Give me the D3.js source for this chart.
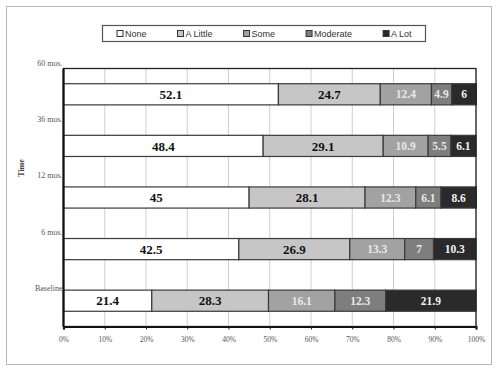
<!DOCTYPE html>
<html>
<head>
<meta charset="utf-8">
<script src="https://cdn.jsdelivr.net/npm/d3@7"></script>
<style>
  body { margin: 0; background: #fff; }
  svg { display: block; }
</style>
</head>
<body>
<div id="chart"></div>
<script>
// categories, top to bottom
var times = ["60 mos.", "36 mos.", "12 mos.", "6 mos.", "Baseline"];
var levels = ["None", "A Little", "Some", "Moderate", "A Lot"];

// percentages per level, same order as times
var none     = [52.1, 48.4, 45, 42.5, 21.4];
var aLittle  = [24.7, 29.1, 28.1, 26.9, 28.3];
var some     = [12.4, 10.9, 12.3, 13.3, 16.1];
var moderate = [4.9, 5.5, 6.1, 7, 12.3];
var aLot     = [6, 6.1, 8.6, 10.3, 21.9];

var xTicks = [0, 10, 20, 30, 40, 50, 60, 70, 80, 90, 100];

var fills = ["#ffffff", "#c6c6c6", "#a2a2a2", "#7e7e7e", "#2a2a2a"];
var labelColors = ["#111", "#111", "#e8e8e8", "#e8e8e8", "#f2f2f2"];

var width = 500, height = 369;
var margin = {left: 63.5, right: 24, top: 68.5, bottom: 42.5};

var svg = d3.select("#chart").append("svg")
    .attr("width", width)
    .attr("height", height);

// outer frame
svg.append("rect")
    .attr("x", 6.5).attr("y", 6.5)
    .attr("width", 485).attr("height", 358)
    .attr("fill", "#fff")
    .attr("stroke", "#b8b8b8");

var x = d3.scaleLinear()
    .domain([0, 100])
    .range([margin.left, width - margin.right]);

var y = d3.scaleBand()
    .domain(times)
    .range([margin.top, height - margin.bottom])
    .paddingInner(0.59)
    .paddingOuter(0.295);

// category label positions drift a bit in the source
var yLab = d3.scalePoint()
    .domain(times)
    .range([63, 288]);

// gridlines
svg.append("g")
    .selectAll("line")
    .data(xTicks)
    .enter().append("line")
    .attr("x1", d => x(d)).attr("x2", d => x(d))
    .attr("y1", margin.top).attr("y2", height - margin.bottom)
    .attr("stroke", "#cfcfcf")
    .attr("stroke-width", 1);

// stack
var rows = times.map(function (t, i) {
    return {time: t, "None": none[i], "A Little": aLittle[i], "Some": some[i], "Moderate": moderate[i], "A Lot": aLot[i]};
});
var series = d3.stack().keys(levels)(rows);

var groups = svg.append("g")
    .selectAll("g")
    .data(series)
    .enter().append("g");

groups.selectAll("rect")
    .data(function (s, si) { return s.map(d => ({d: d, si: si})); })
    .enter().append("rect")
    .attr("x", o => x(o.d[0]))
    .attr("width", o => x(o.d[1]) - x(o.d[0]))
    .attr("y", o => y(o.d.data.time))
    .attr("height", y.bandwidth())
    .attr("fill", o => fills[o.si])
    .attr("stroke", "#3a3a3a")
    .attr("stroke-width", 1.2);

groups.selectAll("text")
    .data(function (s, si) { return s.map(d => ({d: d, si: si, v: d.data[s.key]})); })
    .enter().append("text")
    .attr("x", o => (x(o.d[0]) + x(o.d[1])) / 2)
    .attr("y", o => y(o.d.data.time) + y.bandwidth() / 2)
    .attr("dy", "0.36em")
    .attr("text-anchor", "middle")
    .attr("font-family", "Liberation Serif, serif")
    .attr("font-weight", "bold")
    .attr("font-size", o => o.si < 2 ? 13 : 11.5)
    .attr("fill", o => labelColors[o.si])
    .text(o => o.v);

// plot border
svg.append("rect")
    .attr("x", margin.left).attr("y", margin.top)
    .attr("width", x(100) - margin.left)
    .attr("height", height - margin.bottom - margin.top)
    .attr("fill", "none")
    .attr("stroke", "#222")
    .attr("stroke-width", 1.3);

// bottom axis
var xAxis = svg.append("g")
    .attr("transform", "translate(0," + (height - margin.bottom) + ")")
    .call(d3.axisBottom(x).tickValues(xTicks).tickSize(3).tickFormat(d => d + "%"));
xAxis.select(".domain").attr("stroke", "#111").attr("stroke-width", 2.2);
xAxis.selectAll(".tick line").attr("stroke", "#222");
xAxis.selectAll("text")
    .attr("font-family", "Liberation Serif, serif")
    .attr("font-size", 7.5)
    .attr("fill", "#555")
    .attr("dy", "1.2em");

// left axis line
svg.append("line")
    .attr("x1", margin.left).attr("x2", margin.left)
    .attr("y1", margin.top).attr("y2", height - margin.bottom)
    .attr("stroke", "#111").attr("stroke-width", 2.2);

// category labels
svg.append("g")
    .selectAll("text")
    .data(times)
    .enter().append("text")
    .attr("x", margin.left - 1)
    .attr("y", d => yLab(d))
    .attr("dy", "0.35em")
    .attr("text-anchor", "end")
    .attr("font-family", "Liberation Serif, serif")
    .attr("font-size", 8)
    .attr("fill", "#555")
    .text(d => d);

// axis title
svg.append("text")
    .attr("transform", "translate(24,168) rotate(-90)")
    .attr("text-anchor", "middle")
    .attr("font-family", "Liberation Serif, serif")
    .attr("font-weight", "bold")
    .attr("font-size", 8)
    .attr("fill", "#444")
    .text("Time");

// legend
var legend = svg.append("g");
legend.append("rect")
    .attr("x", 102.5).attr("y", 25.5)
    .attr("width", 323).attr("height", 16)
    .attr("fill", "#fff")
    .attr("stroke", "#555")
    .attr("stroke-width", 1.2);

var lx = 117;
levels.forEach(function (k, i) {
    var item = legend.append("g").attr("transform", "translate(" + lx + ",33.5)");
    item.append("rect")
        .attr("x", 0).attr("y", -3)
        .attr("width", 6).attr("height", 6)
        .attr("fill", fills[i])
        .attr("stroke", "#333")
        .attr("stroke-width", 1);
    var t = item.append("text")
        .attr("x", 8)
        .attr("dy", "0.35em")
        .attr("font-family", "Liberation Sans, sans-serif")
        .attr("font-size", 9)
        .attr("fill", "#333")
        .text(k);
    lx += 8 + t.node().getComputedTextLength() + 31;
});
</script>
</body>
</html>
